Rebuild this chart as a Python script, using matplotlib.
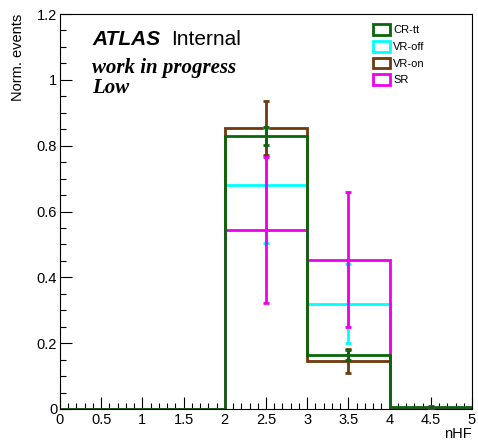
import matplotlib
matplotlib.use('Agg')
import matplotlib.pyplot as plt
from matplotlib.ticker import MultipleLocator
from matplotlib.patches import Patch

plt.rcParams['font.family'] = ['Liberation Sans', 'DejaVu Sans']

# bin edges of nHF and normalised contents per region
edges = [0, 1, 2, 3, 4, 5]
regions = ['CR-tt', 'VR-off', 'VR-on', 'SR']
cr_tt = [0, 0, 0.830, 0.164, 0.007]
cr_tt_err = [0, 0, 0.027, 0.015, 0.003]
vr_off = [0, 0, 0.680, 0.320, 0]
vr_off_err = [0, 0, 0.175, 0.120, 0]
vr_on = [0, 0, 0.854, 0.146, 0]
vr_on_err = [0, 0, 0.083, 0.036, 0]
sr = [0, 0, 0.544, 0.453, 0.004]
sr_err = [0, 0, 0.222, 0.205, 0.002]

colors = {'CR-tt': '#0b660b', 'VR-off': '#00ffff', 'VR-on': '#6e3a0e', 'SR': '#ee00ee'}
data = {'CR-tt': (cr_tt, cr_tt_err), 'VR-off': (vr_off, vr_off_err),
        'VR-on': (vr_on, vr_on_err), 'SR': (sr, sr_err)}

fig = plt.figure(figsize=(4.78, 4.43), dpi=100)
ax = fig.add_axes([60/478, 34/443, 412/478, 395/443])

centers = [(edges[i] + edges[i+1]) / 2 for i in range(len(edges) - 1)]
# drawing order: cyan below, green on top
for name in ['VR-off', 'VR-on', 'SR', 'CR-tt']:
    vals, errs = data[name]
    c = colors[name]
    ax.stairs(vals, edges, baseline=0, color=c, lw=2, zorder=2)
    xs = [centers[i] for i in range(len(vals)) if vals[i] > 0]
    ys = [vals[i] for i in range(len(vals)) if vals[i] > 0]
    es = [errs[i] for i in range(len(vals)) if vals[i] > 0]
    ax.errorbar(xs, ys, yerr=es, fmt='none', ecolor=c, elinewidth=2,
                capsize=2, capthick=2, zorder=3)

ax.set_xlim(0, 5)
ax.set_ylim(0, 1.2)
ax.xaxis.set_major_locator(MultipleLocator(0.5))
ax.xaxis.set_minor_locator(MultipleLocator(0.1))
ax.yaxis.set_major_locator(MultipleLocator(0.2))
ax.yaxis.set_minor_locator(MultipleLocator(0.05))
ax.tick_params(which='both', direction='in', top=False, right=False, labelsize=10.5)
ax.tick_params(which='major', length=8.5, width=0.8)
ax.tick_params(which='minor', length=4.5, width=0.8)
ax.tick_params(axis='x', pad=3)
ax.tick_params(axis='y', pad=2)
ax.xaxis.set_major_formatter(matplotlib.ticker.FuncFormatter(lambda v, p: '%g' % v))
ax.yaxis.set_major_formatter(matplotlib.ticker.FuncFormatter(lambda v, p: '%g' % v))
for s in ax.spines.values():
    s.set_linewidth(0.8)

fig.text(18/478, 1 - 14/443, 'Norm. events', rotation=90, ha='center', va='top', fontsize=10.5)
fig.text(472/478, 1 - 427/443, 'nHF', ha='right', va='top', fontsize=10.5)

ax.text(0.078, 0.9215, 'ATLAS', transform=ax.transAxes, fontsize=15,
        fontweight='bold', fontstyle='italic', va='baseline')
ax.text(0.27, 0.9215, 'Internal', transform=ax.transAxes, fontsize=15, va='baseline')
ax.text(0.078, 0.851, 'work in progress', transform=ax.transAxes, fontsize=15,
        family='Liberation Serif', fontweight='bold', fontstyle='italic', va='baseline')
ax.text(0.078, 0.80, 'Low', transform=ax.transAxes, fontsize=15,
        family='Liberation Serif', fontweight='bold', fontstyle='italic', va='baseline')

handles = [Patch(facecolor='white', edgecolor=colors[n], lw=2, label=n) for n in regions]
ax.legend(handles=handles, loc='upper left', bbox_to_anchor=(0.748, 0.985),
          frameon=False, fontsize=8, handlelength=1.6, handleheight=1.1,
          handletextpad=0.25, labelspacing=0.5, borderaxespad=0)

fig.savefig('out.png', dpi=100)
